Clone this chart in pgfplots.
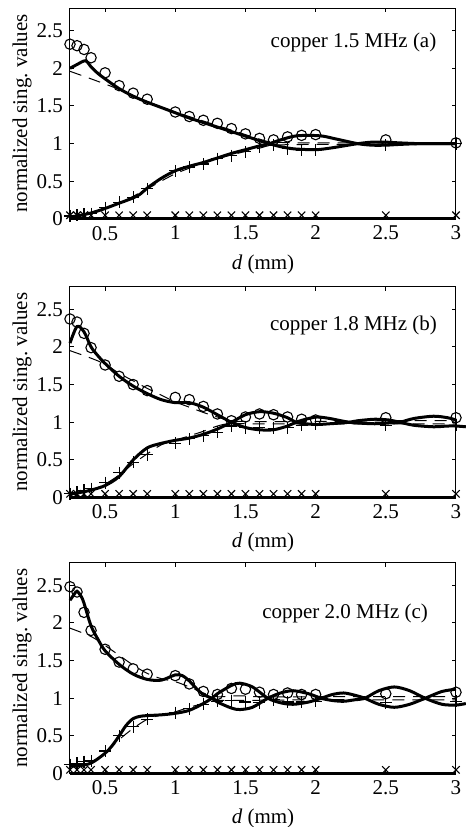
\documentclass[border=0pt]{standalone}
\usepackage{fontspec}
\setmainfont{Liberation Serif}
\usepackage{pgfplots}
\pgfplotsset{compat=1.18}

\pgfplotsset{
  svdpanel/.style={
    width=193pt, height=105.5pt, scale only axis,
    xmin=0.25, xmax=3, ymin=0, ymax=2.8,
    xtick={0.5,1,1.5,2,2.5,3}, ytick={0,0.5,1,1.5,2,2.5},
    tick align=inside, major tick length=2.2pt,
    axis line style={line width=0.5pt},
    every tick/.style={black, line width=0.5pt},
    tick label style={font=\fontsize{10.5}{12}\selectfont},
    /pgf/number format/assume math mode=true,
    xlabel={\textit{d} (mm)},
    ylabel={normalized sing.\ values},
    every axis x label/.style={at={(axis description cs:0.5,-0.213)},anchor=center,font=\fontsize{10.5}{12}\selectfont},
    every axis y label/.style={at={(axis description cs:-0.124,0.5)},rotate=90,anchor=center,font=\fontsize{10.5}{12}\selectfont},
    clip=false,
  },
  theory/.style={black, line width=1.5pt, no markers, smooth},
  model/.style={black, line width=0.5pt, dash pattern=on 6pt off 4pt, no markers, smooth},
  sv1/.style={black, only marks, mark=o, mark size=2.6pt, mark options={line width=0.55pt}},
  sv2/.style={black, only marks, mark=+, mark size=3pt, mark options={line width=0.55pt}},
  sv3/.style={black, only marks, mark=x, mark size=2.6pt, mark options={line width=0.55pt}},
}

\begin{document}
\begin{tikzpicture}

% ---- (a) 1.5 MHz
\begin{axis}[svdpanel, at={(0pt,0pt)}, anchor=north west]
\addplot[model] coordinates {(0.25,1.96) (0.4,1.86) (0.6,1.72) (0.8,1.56) (1.0,1.42) (1.2,1.30) (1.4,1.18) (1.5,1.12) (1.6,1.06) (1.7,1.02) (2.0,1.01) (2.5,1.01) (3.0,1.0)};
\addplot[model] coordinates {(0.25,0.04) (0.4,0.08) (0.6,0.21) (0.8,0.40) (1.0,0.60) (1.2,0.74) (1.4,0.85) (1.6,0.94) (1.7,0.98) (2.0,0.99) (2.5,0.99) (3.0,1.0)};
\addplot[theory] coordinates {(0.25,2.0) (0.3,2.05) (0.36,2.1) (0.4,2.02) (0.45,1.93) (0.5,1.86) (0.6,1.73) (0.7,1.63) (0.8,1.55) (0.9,1.48) (1.0,1.41) (1.1,1.34) (1.2,1.28) (1.3,1.22) (1.4,1.16) (1.5,1.10) (1.6,1.04) (1.67,1.0) (1.75,0.96) (1.85,0.93) (2.0,0.92) (2.1,0.94) (2.2,0.97) (2.3,1.0) (2.4,1.02) (2.5,1.02) (2.6,1.01) (2.75,1.0) (3.0,1.0)};
\addplot[theory] coordinates {(0.25,0.03) (0.3,0.04) (0.4,0.08) (0.5,0.14) (0.6,0.21) (0.7,0.28) (0.75,0.33) (0.8,0.41) (0.9,0.54) (1.0,0.64) (1.1,0.70) (1.2,0.75) (1.3,0.81) (1.4,0.87) (1.5,0.92) (1.6,0.97) (1.67,1.0) (1.75,1.05) (1.85,1.10) (1.95,1.11) (2.05,1.10) (2.15,1.06) (2.3,1.0) (2.4,0.98) (2.5,0.98) (2.6,0.99) (2.75,1.0) (3.0,1.0)};
\addplot[theory] coordinates {(0.25,0.008) (3.0,0.008)};
\addplot[sv1] coordinates {(0.25,2.32) (0.3,2.30) (0.35,2.25) (0.4,2.14) (0.5,1.94) (0.6,1.77) (0.7,1.67) (0.8,1.59) (1.0,1.42) (1.1,1.36) (1.2,1.31) (1.3,1.27) (1.4,1.20) (1.5,1.13) (1.6,1.07) (1.7,1.05) (1.8,1.09) (1.9,1.11) (2.0,1.12) (2.5,1.05) (3.0,1.01)};
\addplot[sv2] coordinates {(0.25,0.04) (0.3,0.05) (0.35,0.06) (0.4,0.07) (0.5,0.15) (0.6,0.22) (0.7,0.29) (0.8,0.40) (1.0,0.64) (1.1,0.69) (1.2,0.73) (1.3,0.80) (1.4,0.84) (1.5,0.89) (1.6,0.96) (1.7,0.98) (1.8,0.93) (1.9,0.91) (2.0,0.91) (2.5,0.98) (3.0,1.0)};
\addplot[sv3] coordinates {(0.25,0.05) (0.3,0.05) (0.35,0.05) (0.4,0.05) (0.5,0.05) (0.6,0.05) (0.7,0.05) (0.8,0.05) (1.0,0.05) (1.1,0.05) (1.2,0.05) (1.3,0.05) (1.4,0.05) (1.5,0.05) (1.6,0.05) (1.7,0.05) (1.8,0.05) (1.9,0.05) (2.0,0.05) (2.5,0.05) (3.0,0.05)};
\node[font=\fontsize{10.5}{12}\selectfont] at (axis cs:2.27,2.34) {copper 1.5 MHz (a)};
\end{axis}

% ---- (b) 1.8 MHz
\begin{axis}[svdpanel, at={(0pt,-139.3pt)}, anchor=north west]
\addplot[model] coordinates {(0.25,1.95) (0.4,1.85) (0.5,1.77) (0.6,1.65) (0.7,1.55) (0.8,1.45) (0.9,1.36) (1.0,1.27) (1.1,1.20) (1.2,1.13) (1.3,1.07) (1.4,1.02) (1.5,1.01) (2.0,1.01) (2.5,1.02) (2.8,1.02) (3.0,1.02)};
\addplot[model] coordinates {(0.25,0.05) (0.4,0.10) (0.5,0.18) (0.6,0.30) (0.7,0.45) (0.8,0.58) (0.9,0.70) (1.0,0.76) (1.1,0.82) (1.2,0.88) (1.3,0.95) (1.4,0.99) (1.5,0.98) (2.0,0.98) (2.5,0.98) (3.0,0.98)};
\addplot[theory] coordinates {(0.25,2.05) (0.3,2.27) (0.35,2.20) (0.4,2.00) (0.45,1.88) (0.5,1.78) (0.6,1.61) (0.7,1.48) (0.8,1.38) (0.9,1.30) (1.0,1.26) (1.1,1.26) (1.2,1.20) (1.3,1.10) (1.4,1.0) (1.5,0.93) (1.6,0.90) (1.7,0.90) (1.8,0.95) (1.86,1.0) (1.93,1.04) (2.01,1.07) (2.1,1.05) (2.18,1.02) (2.24,1.0) (2.3,0.99) (2.42,0.98) (2.52,0.99) (2.6,1.0) (2.7,1.05) (2.84,1.08) (2.94,1.06) (3.0,1.03)};
\addplot[theory] coordinates {(0.25,0.05) (0.3,0.06) (0.4,0.10) (0.5,0.16) (0.6,0.28) (0.7,0.50) (0.8,0.66) (0.9,0.72) (1.0,0.76) (1.1,0.79) (1.2,0.84) (1.3,0.91) (1.4,1.0) (1.5,1.10) (1.6,1.14) (1.7,1.12) (1.8,1.06) (1.86,1.0) (1.93,0.98) (2.01,0.97) (2.1,0.98) (2.18,0.99) (2.24,1.0) (2.3,1.02) (2.42,1.04) (2.52,1.03) (2.6,1.0) (2.7,0.96) (2.84,0.94) (2.94,0.95) (3.0,0.95) (3.07,0.94)};
\addplot[theory] coordinates {(0.25,0.008) (3.0,0.008)};
\addplot[sv1] coordinates {(0.25,2.37) (0.3,2.33) (0.35,2.18) (0.4,1.99) (0.5,1.76) (0.6,1.61) (0.7,1.50) (0.8,1.42) (1.0,1.33) (1.1,1.30) (1.2,1.21) (1.3,1.11) (1.4,1.02) (1.5,1.07) (1.6,1.11) (1.7,1.10) (1.8,1.07) (1.9,1.04) (2.0,1.03) (2.5,1.06) (3.0,1.06)};
\addplot[sv2] coordinates {(0.25,0.05) (0.3,0.07) (0.35,0.10) (0.4,0.12) (0.5,0.20) (0.6,0.33) (0.7,0.47) (0.8,0.57) (1.0,0.72) (1.1,0.78) (1.2,0.82) (1.3,0.87) (1.4,0.95) (1.5,0.93) (1.6,0.93) (1.7,0.92) (1.8,0.93) (1.9,0.96) (2.0,0.98) (2.5,0.96) (3.0,0.96)};
\addplot[sv3] coordinates {(0.25,0.05) (0.3,0.05) (0.35,0.05) (0.4,0.05) (0.5,0.05) (0.6,0.05) (0.7,0.05) (0.8,0.05) (1.0,0.05) (1.1,0.05) (1.2,0.05) (1.3,0.05) (1.4,0.05) (1.5,0.05) (1.6,0.05) (1.7,0.05) (1.8,0.05) (1.9,0.05) (2.0,0.05) (2.5,0.05) (3.0,0.05)};
\node[font=\fontsize{10.5}{12}\selectfont] at (axis cs:2.27,2.28) {copper 1.8 MHz (b)};
\end{axis}

% ---- (c) 2.0 MHz
\begin{axis}[svdpanel, at={(0pt,-277.3pt)}, anchor=north west]
\addplot[model] coordinates {(0.25,1.93) (0.4,1.82) (0.5,1.70) (0.6,1.57) (0.7,1.44) (0.8,1.33) (0.9,1.26) (1.0,1.22) (1.1,1.15) (1.2,1.07) (1.3,1.02) (1.4,1.03) (1.5,1.03) (1.6,1.02) (2.0,1.02) (2.5,1.02) (3.0,1.02)};
\addplot[model] coordinates {(0.25,0.10) (0.4,0.16) (0.5,0.27) (0.6,0.45) (0.7,0.60) (0.8,0.72) (0.9,0.78) (1.0,0.82) (1.1,0.88) (1.2,0.93) (1.3,0.97) (1.4,0.97) (2.0,0.98) (2.5,0.98) (3.0,0.98)};
\addplot[theory] coordinates {(0.25,2.30) (0.28,2.38) (0.3,2.42) (0.33,2.35) (0.35,2.26) (0.4,1.96) (0.45,1.78) (0.5,1.63) (0.6,1.45) (0.7,1.32) (0.8,1.25) (0.9,1.24) (1.0,1.31) (1.05,1.30) (1.1,1.23) (1.15,1.13) (1.2,1.05) (1.26,1.0) (1.3,0.95) (1.4,0.87) (1.46,0.85) (1.55,0.88) (1.66,1.0) (1.75,1.07) (1.84,1.10) (1.95,1.06) (2.04,1.0) (2.12,0.97) (2.2,0.96) (2.28,0.98) (2.35,1.0) (2.45,1.10) (2.56,1.15) (2.67,1.10) (2.78,1.0) (2.9,0.92) (3.0,0.91) (3.07,0.93)};
\addplot[theory] coordinates {(0.25,0.10) (0.3,0.10) (0.4,0.14) (0.5,0.27) (0.55,0.37) (0.6,0.50) (0.65,0.64) (0.7,0.73) (0.75,0.76) (0.8,0.77) (0.9,0.78) (1.0,0.80) (1.1,0.84) (1.2,0.93) (1.26,1.0) (1.3,1.06) (1.4,1.17) (1.46,1.20) (1.55,1.15) (1.66,1.0) (1.75,0.94) (1.84,0.92) (1.95,0.95) (2.04,1.0) (2.12,1.05) (2.2,1.07) (2.28,1.04) (2.35,1.0) (2.45,0.92) (2.56,0.88) (2.67,0.92) (2.78,1.0) (2.9,1.09) (3.0,1.12)};
\addplot[theory] coordinates {(0.25,0.008) (3.0,0.008)};
\addplot[sv1] coordinates {(0.25,2.48) (0.3,2.41) (0.35,2.14) (0.4,1.90) (0.5,1.65) (0.6,1.48) (0.7,1.39) (0.8,1.32) (1.0,1.30) (1.1,1.19) (1.2,1.09) (1.3,1.05) (1.4,1.13) (1.5,1.12) (1.6,1.08) (1.7,1.05) (1.8,1.07) (1.9,1.05) (2.0,1.05) (2.5,1.06) (3.0,1.08)};
\addplot[sv2] coordinates {(0.25,0.12) (0.3,0.14) (0.35,0.16) (0.4,0.17) (0.5,0.30) (0.6,0.50) (0.7,0.62) (0.8,0.72) (1.0,0.81) (1.1,0.86) (1.2,0.92) (1.3,0.96) (1.4,0.97) (1.5,0.95) (1.6,0.94) (1.7,0.98) (1.8,0.95) (1.9,0.95) (2.0,0.96) (2.5,0.94) (3.0,0.96)};
\addplot[sv3] coordinates {(0.25,0.05) (0.3,0.05) (0.35,0.05) (0.4,0.05) (0.5,0.05) (0.6,0.05) (0.7,0.05) (0.8,0.05) (1.0,0.05) (1.1,0.05) (1.2,0.05) (1.3,0.05) (1.4,0.05) (1.5,0.05) (1.6,0.05) (1.7,0.05) (1.8,0.05) (1.9,0.05) (2.0,0.05) (2.5,0.05) (3.0,0.05)};
\node[font=\fontsize{10.5}{12}\selectfont] at (axis cs:2.21,2.13) {copper 2.0 MHz (c)};
\end{axis}

\pgfresetboundingbox
\path[use as bounding box] (-35pt,4pt) rectangle (198pt,-409.5pt);
\end{tikzpicture}
\end{document}
